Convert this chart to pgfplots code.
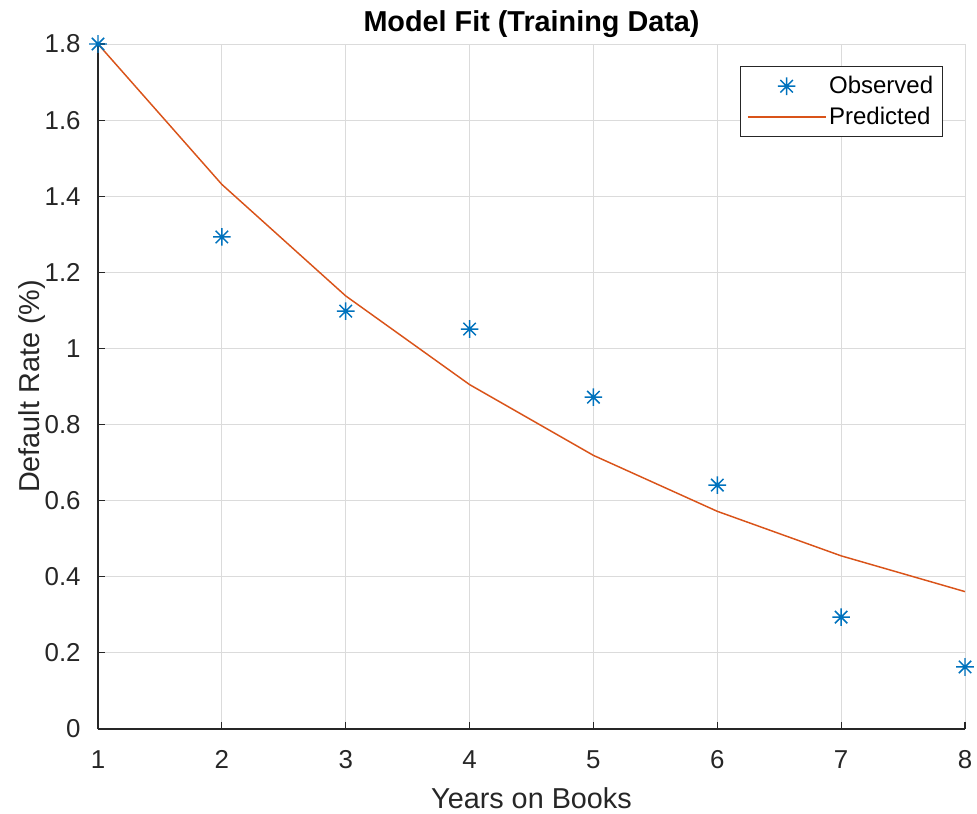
\documentclass[border=0pt]{standalone}
\usepackage{fontspec}
\setmainfont{Liberation Sans}
\usepackage{pgfplots}
\pgfplotsset{compat=1.18}
\definecolor{mblue}{rgb}{0,0.447,0.741}
\definecolor{morange}{rgb}{0.85,0.325,0.098}
\definecolor{axgray}{rgb}{0.15,0.15,0.15}
\definecolor{gridgray}{rgb}{0.86,0.86,0.86}
\pgfdeclareplotmark{mstar}{%
 \pgfpathmoveto{\pgfqpoint{-\pgfplotmarksize}{0pt}}%
 \pgfpathlineto{\pgfqpoint{\pgfplotmarksize}{0pt}}%
 \pgfpathmoveto{\pgfqpoint{0pt}{-\pgfplotmarksize}}%
 \pgfpathlineto{\pgfqpoint{0pt}{\pgfplotmarksize}}%
 \pgfpathmoveto{\pgfqpoint{-0.707\pgfplotmarksize}{-0.707\pgfplotmarksize}}%
 \pgfpathlineto{\pgfqpoint{0.707\pgfplotmarksize}{0.707\pgfplotmarksize}}%
 \pgfpathmoveto{\pgfqpoint{-0.707\pgfplotmarksize}{0.707\pgfplotmarksize}}%
 \pgfpathlineto{\pgfqpoint{0.707\pgfplotmarksize}{-0.707\pgfplotmarksize}}%
 \pgfusepathqstroke}
\pgfplotsset{
 obsleg/.style={legend image code/.code={\draw[mark repeat=2,mark phase=2,##1] plot coordinates {(0cm,0cm) (1.02cm,0cm) (2.05cm,0cm)};}},
 predleg/.style={legend image code/.code={\draw[##1] (0cm,0cm) -- (2.05cm,0cm);}},
}
\begin{document}
\begin{tikzpicture}
\begin{axis}[
 width=650.25pt, height=513.75pt, scale only axis,
 xmin=1, xmax=8, ymin=0, ymax=1.8,
 xtick={1,2,3,4,5,6,7,8},
 ytick={0,0.2,0.4,0.6,0.8,1,1.2,1.4,1.6,1.8},
 yticklabels={0,0.2,0.4,0.6,0.8,1,1.2,1.4,1.6,1.8},
 grid=major,
 major grid style={gridgray, line width=0.7pt},
 axis x line*=bottom, axis y line*=left,
 axis line style={axgray, line width=0.8pt},
 tick style={axgray, line width=0.8pt},
 tick align=inside, major tick length=5pt,
 /pgf/number format/assume math mode=true,
 ticklabel style={font=\fontsize{19.4}{22}\selectfont, text=axgray},
 xticklabel style={yshift=-12.4pt},
 yticklabel style={xshift=-9.5pt},
 xlabel={Years on Books}, ylabel={Default Rate (\%)},
 label style={font=\fontsize{21.6}{24}\selectfont, text=axgray},
 xlabel style={yshift=-7.3pt},
 ylabel style={yshift=-7.5pt},
 title={\textbf{Model Fit (Training Data)}},
 title style={font=\fontsize{21.6}{24}\selectfont, at={(0.5,1)}, anchor=base, yshift=3.5pt},
 legend style={at={(1,1)}, anchor=north east, xshift=-16.5pt, yshift=-16.5pt,
   draw=axgray, line width=0.8pt, font=\fontsize{18}{21}\selectfont, row sep=4.5pt,
   inner xsep=5pt, inner ysep=5.5pt},
 legend cell align=left,
 clip=false,
]
\addplot[only marks, mark=mstar, mark size=6.6pt, mblue, line width=1.1pt, obsleg]
 coordinates {(1,1.8) (2,1.293) (3,1.098) (4,1.051) (5,0.872) (6,0.641) (7,0.294) (8,0.163)};
\addlegendentry{Observed}
\addplot[morange, line width=1.1pt, no marks, predleg]
 coordinates {(1,1.8) (2,1.431) (3,1.138) (4,0.905) (5,0.719) (6,0.572) (7,0.455) (8,0.361)};
\addlegendentry{Predicted}
\end{axis}
\pgfresetboundingbox
\path ([shift={(-73.5pt,-63pt)}]current axis.south west) rectangle ([shift={(9pt,33pt)}]current axis.north east);
\end{tikzpicture}
\end{document}
